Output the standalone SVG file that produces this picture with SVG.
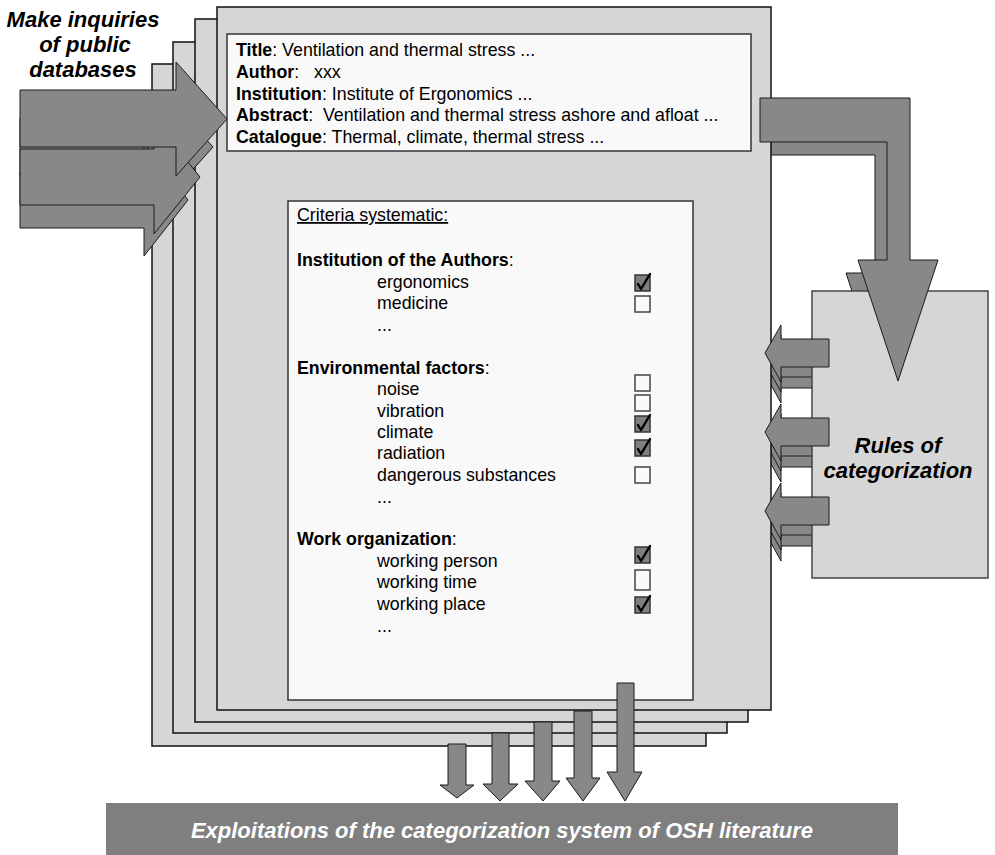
<svg xmlns="http://www.w3.org/2000/svg" width="995" height="855" viewBox="0 0 995 855">
<style>
.page{fill:#d6d6d6;stroke:#111;stroke-width:1.5}
.sheet{fill:#f9f9f9;stroke:#333;stroke-width:1.5}
.arr{fill:#888;stroke:#1a1a1a;stroke-width:1}
.t{font-family:"Liberation Sans",Arial,sans-serif;font-size:17.8px;fill:#000;white-space:pre}
.b{font-weight:bold}
.big{font-family:"Liberation Sans",Arial,sans-serif;font-size:22px;font-weight:bold;font-style:italic;text-anchor:middle;fill:#000}
.cb{fill:#fafafa;stroke:#444;stroke-width:1.5}
.cbk{fill:#7f7f7f;stroke:#333;stroke-width:1.5}
.ck{fill:none;stroke:#000;stroke-width:2.4;stroke-linejoin:round;stroke-linecap:round}
</style>
<defs>
<polygon id="larr" points="829,339 781,339 781,325 765,353 781,382 781,367 829,367"/>
</defs>

<g id="connectors-back">
<polygon class="arr" points="760,111 898,111 898,273 926,273 886,394 846,273 875,273 875,155 760,155"/>
<use href="#larr" class="arr" transform="translate(0,21)"/>
<use href="#larr" class="arr" transform="translate(0,10)"/>
<use href="#larr" class="arr" transform="translate(0,100)"/>
<use href="#larr" class="arr" transform="translate(0,89)"/>
<use href="#larr" class="arr" transform="translate(0,179)"/>
<use href="#larr" class="arr" transform="translate(0,168)"/>
</g>

<g id="pages">
<rect class="page" x="152" y="64" width="554" height="682"/>
<rect class="page" x="173" y="42" width="554" height="691"/>
<rect class="page" x="195" y="19" width="553" height="703"/>
<rect class="page" x="217" y="7" width="554" height="703"/>
</g>

<g id="record">
<rect class="sheet" x="227" y="34" width="524" height="117"/>
<text class="t" x="236" y="56"><tspan class="b">Title</tspan>: Ventilation and thermal stress ...</text>
<text class="t" x="236" y="78"><tspan class="b">Author</tspan>:   xxx</text>
<text class="t" x="236" y="100"><tspan class="b">Institution</tspan>: Institute of Ergonomics ...</text>
<text class="t" x="236" y="121"><tspan class="b">Abstract</tspan>:  Ventilation and thermal stress ashore and afloat ...</text>
<text class="t" x="236" y="143"><tspan class="b">Catalogue</tspan>: Thermal, climate, thermal stress ...</text>
</g>

<g id="criteria">
<rect class="sheet" x="288" y="201" width="405" height="499"/>
<text class="t" x="297" y="221" text-decoration="underline">Criteria systematic:</text>
<text class="t" x="297" y="266"><tspan class="b">Institution of the Authors</tspan>:</text>
<text class="t" x="377" y="288">ergonomics</text>
<text class="t" x="377" y="309">medicine</text>
<text class="t" x="377" y="331">...</text>
<text class="t" x="297" y="374"><tspan class="b">Environmental factors</tspan>:</text>
<text class="t" x="377" y="395">noise</text>
<text class="t" x="377" y="417">vibration</text>
<text class="t" x="377" y="438">climate</text>
<text class="t" x="377" y="459">radiation</text>
<text class="t" x="377" y="481">dangerous substances</text>
<text class="t" x="377" y="503">...</text>
<text class="t" x="297" y="545"><tspan class="b">Work organization</tspan>:</text>
<text class="t" x="377" y="567">working person</text>
<text class="t" x="377" y="588">working time</text>
<text class="t" x="377" y="610">working place</text>
<text class="t" x="377" y="632">...</text>
<rect class="cbk" x="635" y="275" width="15" height="16"/>
<path class="ck" d="M638,284 L641,289 L650,274"/>
<rect class="cb" x="635" y="296" width="15" height="16"/>
<rect class="cb" x="635" y="375" width="15" height="16"/>
<rect class="cb" x="635" y="395" width="15" height="16"/>
<rect class="cbk" x="635" y="416" width="15" height="16"/>
<path class="ck" d="M638,425 L641,430 L650,415"/>
<rect class="cbk" x="635" y="440" width="15" height="16"/>
<path class="ck" d="M638,449 L641,454 L650,439"/>
<rect class="cb" x="635" y="467" width="15" height="16"/>
<rect class="cbk" x="635" y="547" width="15" height="16"/>
<path class="ck" d="M638,556 L641,561 L650,546"/>
<rect class="cb" x="635" y="570" width="15" height="20"/>
<rect class="cbk" x="635" y="597" width="15" height="16"/>
<path class="ck" d="M638,606 L641,611 L650,596"/>
</g>

<g id="rules">
<rect x="812" y="291" width="176" height="287" fill="#d6d6d6" stroke="#444" stroke-width="1.5"/>
<text class="big" x="898" y="453">Rules of</text>
<text class="big" x="898" y="478">categorization</text>
</g>

<g id="inquiries">
<text class="big" x="83" y="27">Make inquiries</text>
<text class="big" x="85" y="52">of public</text>
<text class="big" x="83" y="77">databases</text>
</g>

<g id="connectors">
<polygon class="arr" points="760,98 910,98 910,260 938,260 898,381 858,260 887,260 887,142 760,142"/>
<use href="#larr" class="arr"/>
<use href="#larr" class="arr" transform="translate(0,79)"/>
<use href="#larr" class="arr" transform="translate(0,158)"/>
<polygon class="arr" points="20,118 162,118 162,90 213,147 162,204 162,175 20,175"/>
<polygon class="arr" points="20,172 144,172 144,143 188,200 144,256 144,228 20,228"/>
<polygon class="arr" points="20,149 154,149 154,120 200,177 154,234 154,205 20,205"/>
<polygon class="arr" points="20,90 176,90 176,62 227,119 176,176 176,147 20,147"/>
<polygon class="arr" points="448,744 466,744 466,785 474,785 457,798 440,785 448,785"/>
<polygon class="arr" points="492,733 509,733 509,784 518,784 500,801 483,784 492,784"/>
<polygon class="arr" points="534,722 552,722 552,781 560,781 543,801 525,781 534,781"/>
<polygon class="arr" points="574,711 592,711 592,778 600,778 583,801 566,778 574,778"/>
<polygon class="arr" points="617,683 634,683 634,772 642,772 625,801 607,772 617,772"/>
</g>

<g id="exploitations">
<rect x="106" y="803" width="792" height="52" fill="#7f7f7f"/>
<text class="big" x="502" y="838" style="fill:#fff">Exploitations of the categorization system of OSH literature</text>
</g>
</svg>
